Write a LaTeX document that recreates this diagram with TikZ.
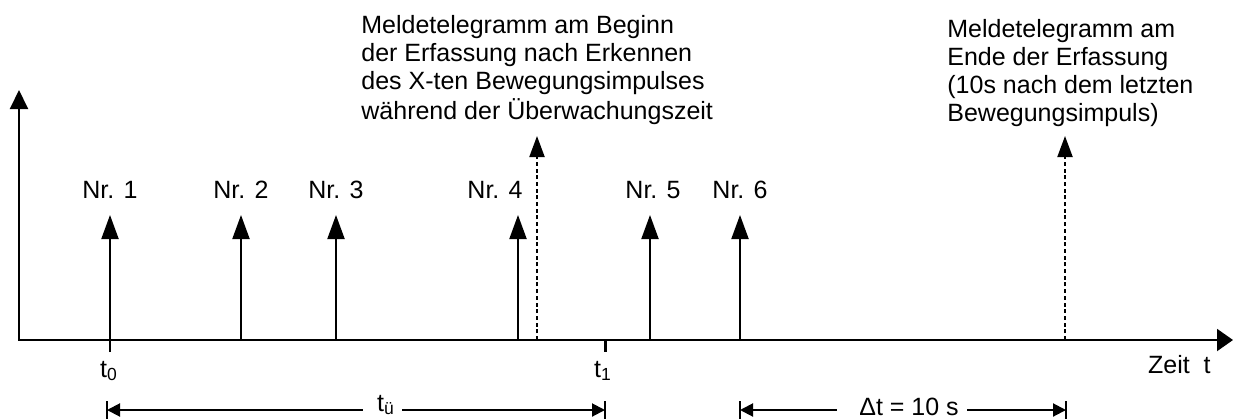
\documentclass[tikz,border=0pt]{standalone}
\usepackage{fontspec}
\setmainfont{Liberation Sans}
\usetikzlibrary{arrows.meta}
\tikzset{
  every node/.style={inner sep=0pt, font=\fontsize{12.5}{14.15}\selectfont},
  axisline/.style={line width=1pt, line join=miter, {Triangle[length=9.5pt,width=9pt]}-{Triangle[length=8pt,width=11pt]}},
  pulse/.style={line width=1pt, -{Triangle[length=12pt,width=8.5pt]}},
  telegram/.style={line width=1pt, dash pattern=on 2pt off 1.35pt, -{Triangle[length=10.5pt,width=7.5pt]}},
  tickmark/.style={line width=1.5pt},
  dimarrow/.style={line width=1pt, -{Triangle[length=6.5pt,width=6.5pt]}},
  dimbar/.style={line width=1.4pt},
  textblock/.style={anchor=base west},
  nrlabel/.style={anchor=base},
}
\begin{document}
\begin{tikzpicture}[x=0.5pt,y=-0.5pt]
\path[use as bounding box] (0,0) rectangle (1236,418);

% axes
\coordinate (O) at (19,340);
\coordinate (ytop) at (19,90);
\coordinate (xend) at (1233,340);
\draw[axisline] (ytop) -- (O) -- (xend);

% movement pulses
\coordinate (b1) at (110,352); \coordinate (p1) at (110,215);
\coordinate (b2) at (241,340); \coordinate (p2) at (241,215);
\coordinate (b3) at (336,340); \coordinate (p3) at (336,215);
\coordinate (b4) at (518,340); \coordinate (p4) at (518,215);
\coordinate (b5) at (650,340); \coordinate (p5) at (650,215);
\coordinate (b6) at (740,340); \coordinate (p6) at (740,215);
\foreach \i in {1,...,6} { \draw[pulse] (b\i) -- (p\i); }

\node[nrlabel] (n1) at (110,198) {Nr. 1};
\node[nrlabel] (n2) at (241,198) {Nr. 2};
\node[nrlabel] (n3) at (336,198) {Nr. 3};
\node[nrlabel] (n4) at (495,198) {Nr. 4};
\node[nrlabel] (n5) at (653,198) {Nr. 5};
\node[nrlabel] (n6) at (740,198) {Nr. 6};

% telegrams
\coordinate (tb1) at (537,340); \coordinate (tp1) at (537,136);
\coordinate (tb2) at (1065,340); \coordinate (tp2) at (1065,136);
\draw[telegram] (tb1) -- (tp1);
\draw[telegram] (tb2) -- (tp2);

\node[textblock] (txt1) at (361,33.3) {\begin{tabular}[t]{@{}l@{}}Meldetelegramm am Beginn\\der Erfassung nach Erkennen\\des X-ten Bewegungsimpulses\\während der Überwachungszeit\end{tabular}};
\node[textblock] (txt2) at (947,37) {\begin{tabular}[t]{@{}l@{}}Meldetelegramm am\\Ende der Erfassung\\(10s nach dem letzten\\Bewegungsimpuls)\end{tabular}};

% time marks
\coordinate (k1a) at (605,340); \coordinate (k1b) at (605,352);
\draw[tickmark] (k1a) -- (k1b);
\node[anchor=base] (t0) at (109,377) {t\textsubscript{0}};
\node[anchor=base] (t1) at (603,377) {t\textsubscript{1}};
\node[anchor=base east] (zeit) at (1211,373) {Zeit\ \ t};

% dimension t_ue
\coordinate (d1a) at (107,410); \coordinate (d1b) at (605,410);
\node[anchor=base] (tu) at (386,411) {t\textsubscript{ü}};
\draw[dimarrow] ([xshift=-7pt]tu.west |- d1a) -- (d1a);
\draw[dimarrow] ([xshift=3.5pt]tu.east |- d1b) -- (d1b);
\draw[dimbar] (107,401) -- (107,419);
\draw[dimbar] (605,401) -- (605,419);

% dimension delta t
\coordinate (d2a) at (740,410); \coordinate (d2b) at (1066,410);
\node[anchor=base] (dt) at (909,415) {Δt = 10 s};
\draw[dimarrow] ([xshift=-11pt]dt.west |- d2a) -- (d2a);
\draw[dimarrow] ([xshift=4pt]dt.east |- d2b) -- (d2b);
\draw[dimbar] (740,401) -- (740,419);
\draw[dimbar] (1066,401) -- (1066,419);
\end{tikzpicture}
\end{document}
